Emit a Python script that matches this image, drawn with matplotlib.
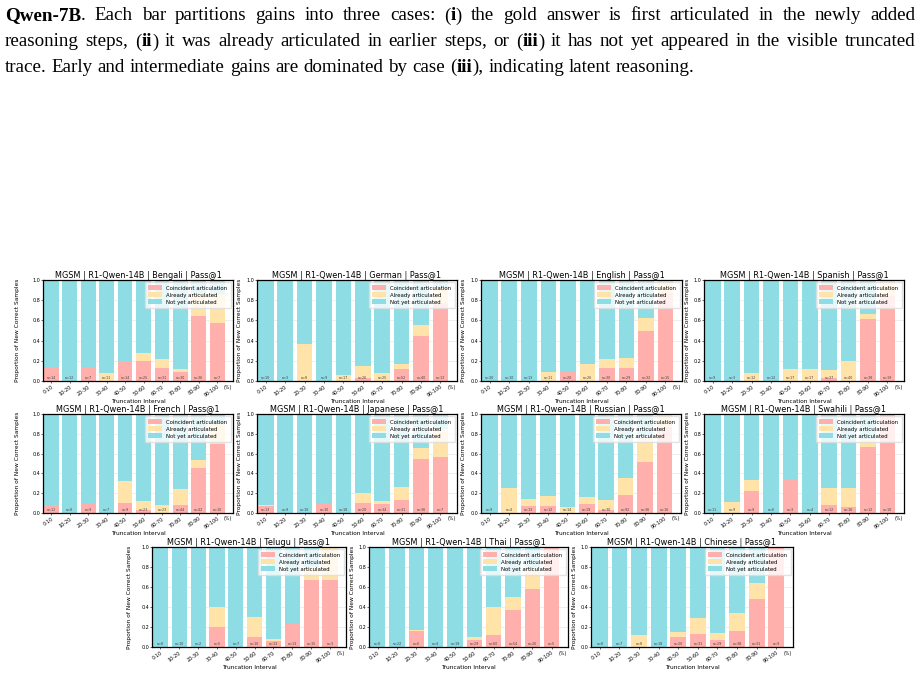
import matplotlib
matplotlib.use("Agg")
import matplotlib.pyplot as plt
from matplotlib.patches import Patch
import numpy as np

W, H = 920, 674
DPI = 100

intervals = ["0-10", "10-20", "20-30", "30-40", "40-50", "50-60", "60-70", "70-80", "80-90", "90-100"]
series_labels = ["Coincident articulation", "Already articulated", "Not yet articulated"]

# fractions of new correct samples per truncation interval
coinc_bengali = [0.14, 0, 0.14, 0, 0.20, 0.20, 0.13, 0.09, 0.64, 0.57]
already_bengali = [0, 0, 0, 0.08, 0, 0.08, 0.09, 0.03, 0.22, 0.29]
n_bengali = [14, 12, 7, 11, 14, 25, 31, 30, 36, 7]

coinc_german = [0, 0, 0, 0, 0, 0.03, 0, 0.12, 0.45, 0.77]
already_german = [0, 0, 0.37, 0, 0.06, 0.12, 0.08, 0.05, 0.10, 0.15]
n_german = [10, 3, 8, 9, 17, 26, 25, 52, 40, 13]

coinc_english = [0, 0, 0, 0, 0.10, 0, 0.13, 0.13, 0.50, 0.87]
already_english = [0, 0, 0, 0.09, 0, 0.17, 0.09, 0.10, 0.12, 0.13]
n_english = [30, 10, 13, 11, 20, 26, 30, 29, 32, 15]

coinc_spanish = [0, 0, 0, 0, 0, 0, 0.03, 0, 0.61, 0.84]
already_spanish = [0, 0, 0.08, 0, 0.12, 0.12, 0.08, 0.20, 0.05, 0.16]
n_spanish = [9, 3, 12, 12, 17, 17, 37, 40, 38, 19]

coinc_french = [0.08, 0, 0.10, 0, 0.10, 0.03, 0, 0.08, 0.45, 0.70]
already_french = [0, 0, 0, 0, 0.22, 0.09, 0.08, 0.16, 0.09, 0.20]
n_french = [12, 8, 9, 7, 9, 23, 23, 44, 42, 10]

coinc_japanese = [0.07, 0, 0, 0.10, 0, 0.10, 0.09, 0.13, 0.55, 0.57]
already_japanese = [0.01, 0, 0, 0, 0, 0.10, 0.03, 0.13, 0.11, 0.28]
n_japanese = [13, 9, 10, 10, 18, 20, 34, 31, 36, 7]

coinc_russian = [0, 0, 0.07, 0.07, 0, 0.09, 0.03, 0.18, 0.52, 0.87]
already_russian = [0, 0.25, 0.07, 0.10, 0.06, 0.07, 0.10, 0.17, 0.24, 0.13]
n_russian = [9, 4, 13, 12, 14, 19, 30, 92, 36, 16]

coinc_swahili = [0, 0, 0.22, 0, 0.33, 0, 0.08, 0.06, 0.67, 1.0]
already_swahili = [0, 0.11, 0.11, 0, 0, 0, 0.17, 0.19, 0.08, 0]
n_swahili = [11, 9, 9, 6, 3, 4, 12, 16, 12, 10]

coinc_telugu = [0, 0, 0, 0.2, 0, 0.1, 0.06, 0.23, 0.67, 0.67]
already_telugu = [0, 0, 0, 0.2, 0, 0.2, 0.02, 0, 0.13, 0.33]
n_telugu = [8, 10, 2, 5, 7, 10, 13, 13, 15, 3]

coinc_thai = [0, 0, 0.16, 0, 0, 0.07, 0.12, 0.37, 0.58, 1.0]
already_thai = [0, 0, 0.01, 0, 0, 0.03, 0.28, 0.13, 0.19, 0]
n_thai = [8, 22, 6, 4, 19, 29, 60, 54, 26, 5]

coinc_chinese = [0, 0, 0, 0, 0.10, 0.13, 0.07, 0.16, 0.48, 1.0]
already_chinese = [0, 0, 0.12, 0, 0.05, 0.16, 0.07, 0.18, 0.16, 0]
n_chinese = [8, 7, 8, 18, 20, 31, 29, 38, 31, 9]

panels = [
    ("Bengali", coinc_bengali, already_bengali, n_bengali),
    ("German", coinc_german, already_german, n_german),
    ("English", coinc_english, already_english, n_english),
    ("Spanish", coinc_spanish, already_spanish, n_spanish),
    ("French", coinc_french, already_french, n_french),
    ("Japanese", coinc_japanese, already_japanese, n_japanese),
    ("Russian", coinc_russian, already_russian, n_russian),
    ("Swahili", coinc_swahili, already_swahili, n_swahili),
    ("Telugu", coinc_telugu, already_telugu, n_telugu),
    ("Thai", coinc_thai, already_thai, n_thai),
    ("Chinese", coinc_chinese, already_chinese, n_chinese),
]

caption_lines = [
    "**Qwen-7B**. Each bar partitions gains into three cases: (**i**) the gold answer is first articulated in the newly added",
    "reasoning steps, (**ii**) it was already articulated in earlier steps, or (**iii**) it has not yet appeared in the visible truncated",
    "trace. Early and intermediate gains are dominated by case (**iii**), indicating latent reasoning.",
]

COLORS = ["#FFB0AC", "#FFE3A9", "#8EDCE4"]

# layout in pixels: left, right, top, bottom, ylabel offset
boxes = [
    (43, 233, 280, 381, 23), (257, 457, 280, 381, 15), (481, 682, 280, 381, 15), (704, 904, 280, 381, 14),
    (43, 233, 414, 513, 23), (257, 457, 414, 513, 15), (481, 681, 414, 513, 15), (704, 904, 414, 513, 14),
    (152, 346, 547, 647, 20), (369, 568, 547, 647, 14), (591, 793, 547, 647, 14),
]

fig = plt.figure(figsize=(W / DPI, H / DPI), dpi=DPI)
renderer = fig.canvas.get_renderer()

# ---------- caption text (justified) ----------
CAP_FONT = "Liberation Serif"
CAP_SIZE = 13.7


def parse_words(line, bold_start):
    words = []
    bold = bold_start
    for w in line.split(" "):
        runs = []
        parts = w.split("**")
        for i, p in enumerate(parts):
            if i > 0:
                bold = not bold
            if p:
                runs.append((p, bold))
        words.append(runs)
    return words, bold


def text_width(s, bold):
    t = fig.text(0, 0, s, fontsize=CAP_SIZE, family=CAP_FONT,
                 fontweight="bold" if bold else "normal")
    w = t.get_window_extent(renderer).width
    t.remove()
    return w


space_w = text_width("a a", False) - text_width("aa", False)
baselines = [20.5, 46.5, 72]
bold = False
for li, line in enumerate(caption_lines):
    words, bold = parse_words(line, bold)
    widths = [[text_width(s, b) for s, b in w] for w in words]
    totals = [sum(ws) for ws in widths]
    x0, x1 = 5, 915
    if li < len(caption_lines) - 1:
        gap = (x1 - x0 - sum(totals)) / (len(words) - 1)
    else:
        gap = space_w * 1.05
    x = x0
    y = 1 - baselines[li] / H
    for runs, ws in zip(words, widths):
        for (s, b), wpx in zip(runs, ws):
            fig.text(x / W, y, s, fontsize=CAP_SIZE, family=CAP_FONT,
                     fontweight="bold" if b else "normal", va="baseline", ha="left")
            x += wpx
        x += gap

# ---------- panels ----------
xpos = np.arange(len(intervals))
for (lang, coinc, already, ns), (l, r, t, b, yoff) in zip(panels, boxes):
    ax = fig.add_axes([l / W, 1 - b / H, (r - l) / W, (b - t) / H])
    coinc = np.array(coinc, dtype=float)
    already = np.array(already, dtype=float)
    notyet = np.clip(1 - coinc - already, 0, None)
    ax.bar(xpos, coinc, width=0.8, color=COLORS[0], zorder=2)
    ax.bar(xpos, already, width=0.8, bottom=coinc, color=COLORS[1], zorder=2)
    ax.bar(xpos, notyet, width=0.8, bottom=coinc + already, color=COLORS[2], zorder=2)
    for xi, n in zip(xpos, ns):
        ax.text(xi, 0.012, f"n={n}", ha="center", va="bottom", fontsize=2.4,
                color="#444444", zorder=3)
    ax.set_xlim(-0.45, 9.85)
    ax.set_ylim(0, 1.0)
    ax.set_xticks(xpos)
    ax.set_xticklabels(intervals, rotation=35, ha="right", rotation_mode="anchor")
    ax.set_yticks([0, 0.2, 0.4, 0.6, 0.8, 1.0])
    ax.tick_params(labelsize=3.5, length=1.2, width=0.4, pad=1)
    ax.grid(axis="y", linestyle="-", linewidth=0.4, color="#cccccc", alpha=0.6, zorder=0)
    ax.set_axisbelow(True)
    ax.set_title(f"MGSM | R1-Qwen-14B | {lang} | Pass@1", fontsize=5.9, pad=1.5)
    ax.set_xlabel("Truncation Interval", fontsize=4.2, labelpad=1)
    ax.set_ylabel("Proportion of New Correct Samples", fontsize=4.2)
    ax.yaxis.set_label_coords(-yoff / (r - l), 0.5)
    for sp in ax.spines.values():
        sp.set_linewidth(0.9)
    ax.text(0.975, -0.035, "(%)", transform=ax.transAxes, ha="center", va="top", fontsize=3.4)
    handles = [Patch(facecolor=c, label=s) for c, s in zip(COLORS, series_labels)]
    ax.legend(handles=handles, loc="upper right", fontsize=3.9, framealpha=0.8,
              handlelength=2.6, handleheight=0.9, borderpad=0.6, labelspacing=0.35,
              edgecolor="#dddddd", fancybox=True, borderaxespad=0.4)

fig.savefig("out.png", dpi=DPI)
